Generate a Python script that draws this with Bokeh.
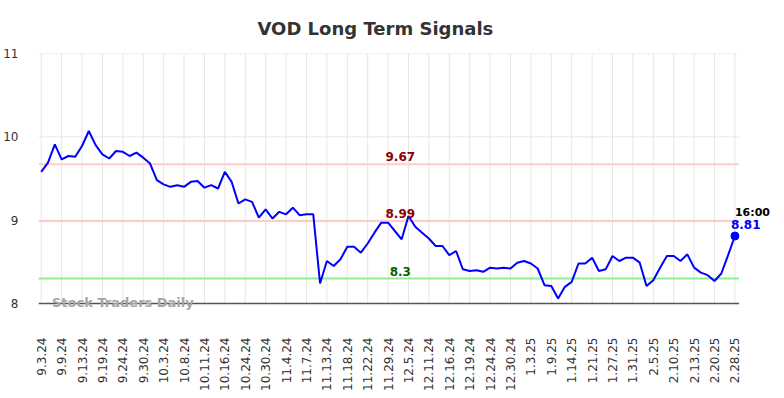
import math
from bokeh.plotting import figure
from bokeh.models import Range1d, FixedTicker, Label, ColumnDataSource
from bokeh.embed import file_html
from bokeh.resources import INLINE

title_text = "VOD Long Term Signals"
watermark = "Stock Traders Daily"

tick_labels = ["9.3.24", "9.9.24", "9.13.24", "9.19.24", "9.24.24", "9.30.24", "10.3.24",
               "10.8.24", "10.11.24", "10.16.24", "10.24.24", "10.30.24", "11.4.24", "11.7.24",
               "11.13.24", "11.18.24", "11.22.24", "11.29.24", "12.5.24", "12.11.24", "12.16.24",
               "12.19.24", "12.24.24", "12.30.24", "1.3.25", "1.9.25", "1.14.25", "1.21.25",
               "1.27.25", "1.31.25", "2.5.25", "2.10.25", "2.13.25", "2.20.25", "2.28.25"]
label_every = 3

prices = [9.58, 9.69, 9.91, 9.73, 9.77, 9.76, 9.89, 10.07, 9.90, 9.79,
          9.74, 9.83, 9.82, 9.77, 9.81, 9.75, 9.68, 9.48, 9.43, 9.40,
          9.42, 9.40, 9.46, 9.47, 9.39, 9.42, 9.38, 9.58, 9.46, 9.20,
          9.25, 9.22, 9.03, 9.13, 9.02, 9.10, 9.07, 9.15, 9.06, 9.07,
          9.07, 8.24, 8.51, 8.45, 8.53, 8.68, 8.68, 8.61, 8.72, 8.85,
          8.97, 8.97, 8.87, 8.77, 9.05, 8.92, 8.85, 8.78, 8.69, 8.69,
          8.58, 8.63, 8.41, 8.39, 8.40, 8.38, 8.43, 8.42, 8.43, 8.42,
          8.49, 8.51, 8.48, 8.42, 8.22, 8.21, 8.06, 8.20, 8.26, 8.48,
          8.48, 8.55, 8.39, 8.41, 8.57, 8.51, 8.55, 8.55, 8.49, 8.21,
          8.28, 8.43, 8.57, 8.57, 8.51, 8.59, 8.43, 8.37, 8.34, 8.27,
          8.36, 8.58, 8.81]

upper_resistance = 9.67
lower_resistance = 8.99
support = 8.30
last_time = "16:00"
last_price = 8.81

y_ticks = [8, 9, 10, 11]

FONT = "DejaVu Sans"

n = len(prices)
idx = list(range(n))
tick_pos = [i * label_every for i in range(len(tick_labels))]

# geometry (pixels)
FRAME_W = 735
FRAME_H = 257
PLOT_W = 700.5      # width of the visible chart area inside the frame
PLOT_H = 250        # height of the visible chart area (8..11)
x_lo = -0.4
x_hi = n - 1 + 0.6
x_end = x_lo + (x_hi - x_lo) * FRAME_W / PLOT_W
y_lo, y_hi = y_ticks[0], y_ticks[-1]
y_start = y_lo - (y_hi - y_lo) * (FRAME_H - PLOT_H) / PLOT_H

p = figure(frame_width=FRAME_W, frame_height=FRAME_H, output_backend="svg", toolbar_location=None,
           x_range=Range1d(x_lo, x_end), y_range=Range1d(y_start, y_hi),
           min_border_left=32, min_border_right=1, min_border_top=53, min_border_bottom=70)
p.outline_line_color = None
p.background_fill_color = "white"
p.border_fill_color = "white"

p.title.text = title_text
p.title.text_font = FONT
p.title.text_font_size = "18px"
p.title.text_font_style = "bold"
p.title.text_color = "#333333"
p.title.align = "left"
p.title.offset = 219
p.title.standoff = 30

p.xaxis.ticker = FixedTicker(ticks=tick_pos)
p.xaxis.major_label_overrides = {pos: lab for pos, lab in zip(tick_pos, tick_labels)}
p.xaxis.major_label_orientation = math.pi / 2
p.xaxis.major_label_text_font = FONT
p.xaxis.major_label_text_font_size = "12px"
p.xaxis.major_label_text_color = "#333333"
p.xaxis.major_tick_line_color = None
p.xaxis.minor_tick_line_color = None
p.xaxis.major_label_standoff = 21
p.xaxis.axis_line_color = None

p.yaxis.ticker = FixedTicker(ticks=y_ticks)
p.yaxis.major_label_text_font = FONT
p.yaxis.major_label_text_font_size = "12px"
p.yaxis.major_label_text_color = "#333333"
p.yaxis.major_tick_line_color = None
p.yaxis.minor_tick_line_color = None
p.yaxis.axis_line_color = None
p.yaxis.major_label_standoff = 14

p.xgrid.grid_line_color = None
p.ygrid.grid_line_color = None

# grid lines limited to the chart area
p.segment(x0=[x_lo] * len(y_ticks), y0=y_ticks, x1=[x_hi] * len(y_ticks), y1=y_ticks,
          line_color="#e6e6e6", line_width=1)
p.segment(x0=tick_pos, y0=[y_lo] * len(tick_pos), x1=tick_pos, y1=[y_hi] * len(tick_pos),
          line_color="#e6e6e6", line_width=1)

levels = [upper_resistance, lower_resistance, support]
level_line_colors = ["#ffcccc", "#ffcccc", "#90ee90"]
level_text_colors = ["#8b0000", "#8b0000", "#006400"]
p.segment(x0=[x_lo] * 3, y0=levels, x1=[x_hi] * 3, y1=levels,
          line_color=level_line_colors, line_width=2)

p.add_layout(Label(x=13.5, x_units="screen", y=y_lo, text=watermark, text_align="left",
                   text_baseline="middle", y_offset=1, text_font=FONT,
                   text_font_size="13px", text_font_style="bold", text_color="#a6a6a6"))

# x axis line
p.segment(x0=[x_lo], y0=[y_lo], x1=[x_hi], y1=[y_lo], line_color="#555555", line_width=1.5)

src = ColumnDataSource(dict(x=idx, y=prices))
p.line("x", "y", source=src, line_color="#0000ff", line_width=2)
p.scatter([idx[-1]], [prices[-1]], size=8, fill_color="#0000ff", line_color="#0000ff")

mid_x = (n - 1) / 2 + 1.8
for lvl, col in zip(levels, level_text_colors):
    txt = f"{lvl:.2f}".rstrip("0").rstrip(".") if lvl == support else f"{lvl:.2f}"
    p.add_layout(Label(x=mid_x, y=lvl, text=txt, text_align="center", text_baseline="bottom",
                       y_offset=3, text_font=FONT, text_font_size="12px", text_font_style="bold",
                       text_color=col))

p.add_layout(Label(x=idx[-1], y=last_price, text=last_time, text_align="left",
                   text_baseline="middle", y_offset=24, text_font=FONT,
                   text_font_size="11px", text_font_style="bold", text_color="black"))
p.add_layout(Label(x=idx[-1], y=last_price, text=f"{last_price:.2f}", text_align="left",
                   text_baseline="middle", x_offset=-4, y_offset=12, text_font=FONT,
                   text_font_size="12px", text_font_style="bold", text_color="#0000ff"))

open("out.html", "w").write(file_html(p, INLINE))
